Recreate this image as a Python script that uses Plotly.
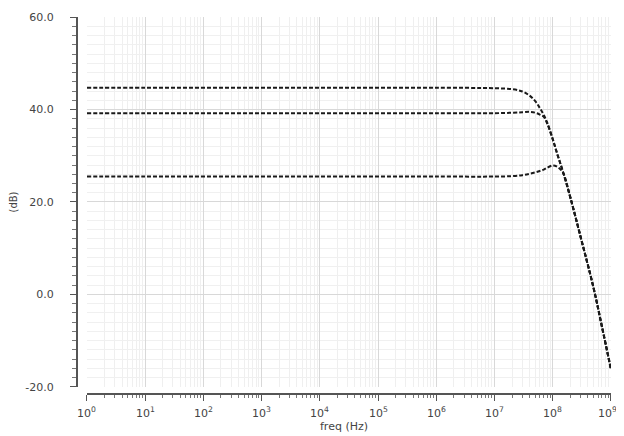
import plotly.graph_objects as go

freq = [1, 10, 100, 1e3, 1e4, 1e5, 1e6, 1e7, 2e7, 3e7, 4e7, 5e7, 6e7, 7e7, 8e7, 1e8,
        1.2e8, 1.5e8, 2e8, 3e8, 5e8, 7e8, 1e9]
gain_top = [44.7, 44.7, 44.7, 44.7, 44.7, 44.7, 44.7, 44.6, 44.4, 43.9, 43.0, 41.8, 40.3,
            38.8, 37.2, 33.6, 30.3, 26.5, 21.0, 12.5, 1.5, -7.0, -16.2]
gain_mid = [39.2, 39.2, 39.2, 39.2, 39.2, 39.2, 39.2, 39.2, 39.3, 39.4, 39.5, 39.3, 38.9,
            38.4, 37.0, 33.5, 30.3, 26.5, 21.0, 12.5, 1.5, -7.0, -16.2]
gain_low = [25.5, 25.5, 25.5, 25.5, 25.5, 25.5, 25.5, 25.5, 25.6, 25.8, 26.1, 26.4, 26.7,
            27.0, 27.4, 27.9, 27.6, 26.3, 21.0, 12.5, 1.5, -7.0, -16.2]

xtick_exp = [0, 1, 2, 3, 4, 5, 6, 7, 8, 9]
xtick_vals = [10 ** e for e in xtick_exp]
xtick_text = ["10<sup>%d</sup>" % e for e in xtick_exp]
ytick_vals = [-20, 0, 20, 40, 60]
ytick_text = ["-20.0", "0.0", "20.0", "40.0", "60.0"]

fig = go.Figure()
for g in (gain_top, gain_mid, gain_low):
    fig.add_trace(go.Scatter(x=freq, y=g, mode="lines", line_shape="spline",
                             line=dict(color="#1a1a1a", width=2, dash="4px,2px"),
                             showlegend=False))

# page body has an 8px default margin, so the figure is drawn smaller
W, H = 616, 428
L, R, T, B = 69, 13, 9, 42
plot_h = H - T - B

annots = [dict(text=t, xref="x", yref="paper", x=e, y=-18 / plot_h,
               xanchor="center", yanchor="middle", showarrow=False,
               xshift=(-3 if e == 9 else 0),
               font=dict(size=11, color="#444444"))
          for e, t in zip(xtick_exp, xtick_text)]
annots.append(dict(text="freq (Hz)", xref="paper", yref="paper", x=0.5, y=-32 / plot_h,
                   xanchor="center", yanchor="middle", showarrow=False,
                   font=dict(size=11, color="#444444")))

fig.update_layout(
    width=W, height=H,
    margin=dict(l=L, r=R, t=T, b=B, autoexpand=False),
    paper_bgcolor="white", plot_bgcolor="white",
    font=dict(family="DejaVu Sans", size=11, color="#444444"),
    xaxis=dict(type="log", range=[0, 9], domain=[0.0187, 1], anchor="free", position=0,
               automargin=False, showticklabels=False,
               tickvals=xtick_vals,
               showline=True, linecolor="#555555", linewidth=2,
               ticks="outside", ticklen=6, tickcolor="#555555",
               showgrid=True, gridcolor="#d8d8d8", gridwidth=1,
               minor=dict(showgrid=True, gridcolor="#efefef", ticks="outside", ticklen=3,
                          tickcolor="#777777", dtick="D1"),
               zeroline=False),
    yaxis=dict(range=[-20, 60], domain=[0.0186, 1], anchor="free", position=0,
               automargin=False, ticklabeloverflow="allow",
               tickvals=ytick_vals, ticktext=ytick_text, ticklabelstandoff=14,
               showline=True, linecolor="#555555", linewidth=2,
               ticks="outside", ticklen=6, tickcolor="#555555",
               showgrid=True, gridcolor="#d8d8d8", gridwidth=1,
               minor=dict(showgrid=True, gridcolor="#f0f0f0", ticks="outside", ticklen=4,
                          tickcolor="#777777", dtick=2),
               title=dict(text="(dB)", standoff=10, font=dict(size=10)),
               zeroline=False),
    annotations=annots,
)

fig.write_html("out.html")
